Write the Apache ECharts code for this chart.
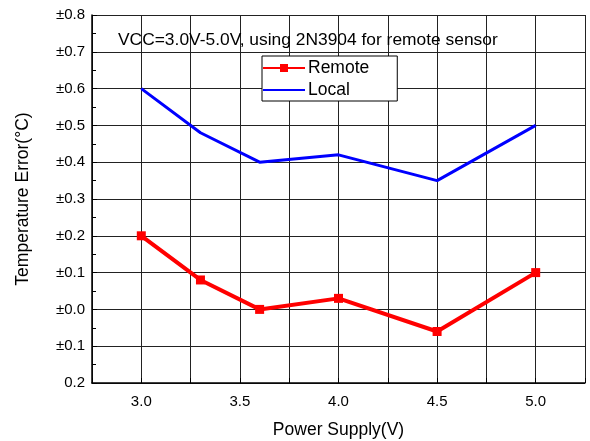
<!DOCTYPE html>
<html><head><meta charset="utf-8">
<script src="https://cdn.jsdelivr.net/npm/echarts@6/dist/echarts.min.js"></script>
<style>html,body{margin:0;padding:0;background:#fff}#c{width:590px;height:441px}</style>
</head><body><div id="c"></div>
<script>
const supplyV = [3.0, 3.3, 3.6, 4.0, 4.5, 5.0];
const remoteErr = [0.20, 0.08, 0.00, 0.03, -0.06, 0.10];
const localErr = [0.60, 0.48, 0.40, 0.42, 0.35, 0.50];
const yTickValues = [0.8, 0.7, 0.6, 0.5, 0.4, 0.3, 0.2, 0.1, 0.0, -0.1, -0.2];
const yTickLabels = ['±0.8','±0.7','±0.6','±0.5','±0.4','±0.3','±0.2','±0.1','±0.0','±0.1','0.2'];
const titleText = 'VCC=3.0V-5.0V, using 2N3904 for remote sensor';

const font = 'Liberation Sans, Arial, sans-serif';
const chart = echarts.init(document.getElementById('c'));
chart.setOption({
  animation: false,
  backgroundColor: '#fff',
  title: { text: titleText, left: 113, top: 27, textStyle: { fontFamily: font, fontSize: 17.4, fontWeight: 'normal', color: '#000' } },
  legend: {
    orient: 'vertical', left: 262, top: 56, itemWidth: 42, itemHeight: 10, itemGap: 4,
    padding: [3, 28, 2, 0],
    borderColor: '#000', borderWidth: 1, backgroundColor: '#fff', borderRadius: 0,
    textStyle: { fontFamily: font, fontSize: 17.5, color: '#000', padding: [0,0,0,-2] },
    data: [
      { name: 'Remote' },
      { name: 'Local', itemStyle: { color: 'rgba(0,0,0,0)', borderWidth: 0, opacity: 0 } }
    ]
  },
  grid: { left: 92, right: 5, top: 15, bottom: 58, containLabel: false, outerBoundsMode: 'none' },
  xAxis: {
    type: 'value', min: 2.75, max: 5.25, interval: 0.25,
    name: 'Power Supply(V)', nameLocation: 'middle', nameGap: 38,
    nameTextStyle: { fontFamily: font, fontSize: 17.5, color: '#000' },
    axisLine: { onZero: false, lineStyle: { color: '#000', width: 1.5 } },
    axisTick: { inside: true, length: 5, lineStyle: { color: '#000' } },
    axisLabel: { fontFamily: font, fontSize: 15, color: '#000', margin: 11,
      formatter: v => (Math.abs(v * 2 - Math.round(v * 2)) < 1e-6 && v > 2.8 && v < 5.2) ? v.toFixed(1) : '' },
    splitLine: { show: true, lineStyle: { color: '#222', width: 1 } }
  },
  yAxis: {
    type: 'value', min: -0.2, max: 0.8, interval: 0.1,
    name: 'Temperature Error(°C)', nameLocation: 'middle', nameGap: 60,
    nameTextStyle: { fontFamily: font, fontSize: 17.5, color: '#000' },
    axisLine: { show: true, onZero: false, lineStyle: { color: '#000', width: 1.5 } },
    axisTick: { show: true, inside: true, length: 5, lineStyle: { color: '#000' } },
    minorTick: { show: true, splitNumber: 2, length: 4, lineStyle: { color: '#000' } },
    axisLabel: { fontFamily: font, fontSize: 15, color: '#000', margin: 7,
      formatter: v => { const i = yTickValues.findIndex(t => Math.abs(t - v) < 1e-6); return i >= 0 ? yTickLabels[i] : ''; } },
    splitLine: { show: true, lineStyle: { color: '#222', width: 1 } }
  },
  series: [
    { name: 'Remote', type: 'line', data: supplyV.map((x, i) => [x, remoteErr[i]]),
      symbol: 'rect', symbolSize: 9, itemStyle: { color: '#ff0000' }, lineStyle: { color: '#ff0000', width: 4 } },
    { name: 'Local', type: 'line', data: supplyV.map((x, i) => [x, localErr[i]]),
      symbol: 'none', itemStyle: { color: '#0000ff' }, lineStyle: { color: '#0000ff', width: 3 } }
  ]
});
</script></body></html>
